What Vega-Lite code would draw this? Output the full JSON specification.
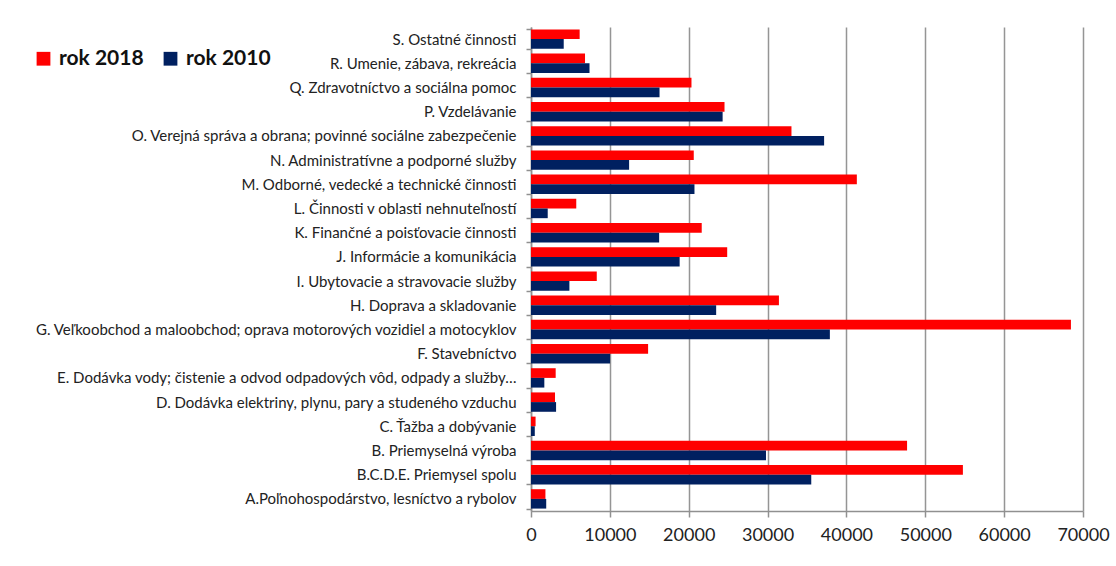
{
  "$schema": "https://vega.github.io/schema/vega-lite/v6.json",
  "autosize": "none",
  "width": 552,
  "height": 484,
  "padding": {"left": 531, "top": 27, "right": 33, "bottom": 55},
  "background": "white",
  "config": {"font": "Lato", "view": {"stroke": null}},
  "data": {"values": [
    {"cat": "S. Ostatné činnosti", "rok": "rok 2018", "v": 6170},
    {"cat": "S. Ostatné činnosti", "rok": "rok 2010", "v": 4150},
    {"cat": "R. Umenie, zábava, rekreácia", "rok": "rok 2018", "v": 6850},
    {"cat": "R. Umenie, zábava, rekreácia", "rok": "rok 2010", "v": 7420},
    {"cat": "Q. Zdravotníctvo a sociálna pomoc", "rok": "rok 2018", "v": 20350},
    {"cat": "Q. Zdravotníctvo a sociálna pomoc", "rok": "rok 2010", "v": 16300},
    {"cat": "P. Vzdelávanie", "rok": "rok 2018", "v": 24540},
    {"cat": "P. Vzdelávanie", "rok": "rok 2010", "v": 24300},
    {"cat": "O. Verejná správa a obrana; povinné sociálne zabezpečenie", "rok": "rok 2018", "v": 33030},
    {"cat": "O. Verejná správa a obrana; povinné sociálne zabezpečenie", "rok": "rok 2010", "v": 37170},
    {"cat": "N. Administratívne a podporné služby", "rok": "rok 2018", "v": 20640},
    {"cat": "N. Administratívne a podporné služby", "rok": "rok 2010", "v": 12440},
    {"cat": "M. Odborné, vedecké a technické činnosti", "rok": "rok 2018", "v": 41320},
    {"cat": "M. Odborné, vedecké a technické činnosti", "rok": "rok 2010", "v": 20730},
    {"cat": "L. Činnosti v oblasti nehnuteľností", "rok": "rok 2018", "v": 5740},
    {"cat": "L. Činnosti v oblasti nehnuteľností", "rok": "rok 2010", "v": 2120},
    {"cat": "K. Finančné a poisťovacie činnosti", "rok": "rok 2018", "v": 21650},
    {"cat": "K. Finančné a poisťovacie činnosti", "rok": "rok 2010", "v": 16250},
    {"cat": "J. Informácie a komunikácia", "rok": "rok 2018", "v": 24880},
    {"cat": "J. Informácie a komunikácia", "rok": "rok 2010", "v": 18850},
    {"cat": "I. Ubytovacie a stravovacie služby", "rok": "rok 2018", "v": 8340},
    {"cat": "I. Ubytovacie a stravovacie služby", "rok": "rok 2010", "v": 4870},
    {"cat": "H. Doprava a skladovanie", "rok": "rok 2018", "v": 31440},
    {"cat": "H. Doprava a skladovanie", "rok": "rok 2010", "v": 23480},
    {"cat": "G. Veľkoobchod a maloobchod; oprava motorových vozidiel a motocyklov", "rok": "rok 2018", "v": 68470},
    {"cat": "G. Veľkoobchod a maloobchod; oprava motorových vozidiel a motocyklov", "rok": "rok 2010", "v": 37900},
    {"cat": "F. Stavebníctvo", "rok": "rok 2018", "v": 14850},
    {"cat": "F. Stavebníctvo", "rok": "rok 2010", "v": 10030},
    {"cat": "E. Dodávka vody; čistenie a odvod odpadových vôd, odpady a služby…", "rok": "rok 2018", "v": 3130},
    {"cat": "E. Dodávka vody; čistenie a odvod odpadových vôd, odpady a služby…", "rok": "rok 2010", "v": 1690},
    {"cat": "D. Dodávka elektriny, plynu, pary a studeného vzduchu", "rok": "rok 2018", "v": 3040},
    {"cat": "D. Dodávka elektriny, plynu, pary a studeného vzduchu", "rok": "rok 2010", "v": 3180},
    {"cat": "C. Ťažba a dobývanie", "rok": "rok 2018", "v": 580},
    {"cat": "C. Ťažba a dobývanie", "rok": "rok 2010", "v": 480},
    {"cat": "B. Priemyselná výroba", "rok": "rok 2018", "v": 47690},
    {"cat": "B. Priemyselná výroba", "rok": "rok 2010", "v": 29800},
    {"cat": "B.C.D.E. Priemysel spolu", "rok": "rok 2018", "v": 54770},
    {"cat": "B.C.D.E. Priemysel spolu", "rok": "rok 2010", "v": 35540},
    {"cat": "A.Poľnohospodárstvo, lesníctvo a rybolov", "rok": "rok 2018", "v": 1830},
    {"cat": "A.Poľnohospodárstvo, lesníctvo a rybolov", "rok": "rok 2010", "v": 1930}
  ]},
  "mark": {"type": "bar", "stroke": null},
  "encoding": {
    "y": {
      "field": "cat", "type": "nominal", "sort": null, "title": null,
      "scale": {"paddingInner": 0.2, "paddingOuter": 0.1},
      "axis": {
        "tickBand": "extent", "labelFontSize": 15, "labelColor": "#222222",
        "labelLimit": 600, "labelPadding": 10, "domainColor": "#909090",
        "tickColor": "#909090", "tickSize": 5, "domainWidth": 1.5, "tickWidth": 1.5
      }
    },
    "yOffset": {"field": "rok", "type": "nominal", "sort": ["rok 2018", "rok 2010"]},
    "x": {
      "field": "v", "type": "quantitative", "title": null,
      "scale": {"domain": [0, 70000], "nice": false},
      "axis": {
        "values": [0, 10000, 20000, 30000, 40000, 50000, 60000, 70000],
        "format": "d", "labelFontSize": 18, "labelColor": "#222222",
        "labelPadding": 9, "gridColor": "#959595", "gridWidth": 1.5,
        "domainColor": "#909090", "domainWidth": 1.5, "tickColor": "#909090",
        "tickSize": 6, "tickWidth": 1.5, "labelFlush": false
      }
    },
    "color": {
      "field": "rok", "type": "nominal", "title": null,
      "scale": {"domain": ["rok 2018", "rok 2010"], "range": ["#ff0000", "#002060"]},
      "legend": {
        "orient": "none", "legendX": -498, "legendY": 21, "direction": "horizontal",
        "symbolType": "square", "symbolSize": 190, "symbolStrokeWidth": 0,
        "labelFontSize": 21, "labelFontWeight": "bold", "labelColor": "#111111",
        "columnPadding": 16, "labelOffset": 5
      }
    }
  }
}
